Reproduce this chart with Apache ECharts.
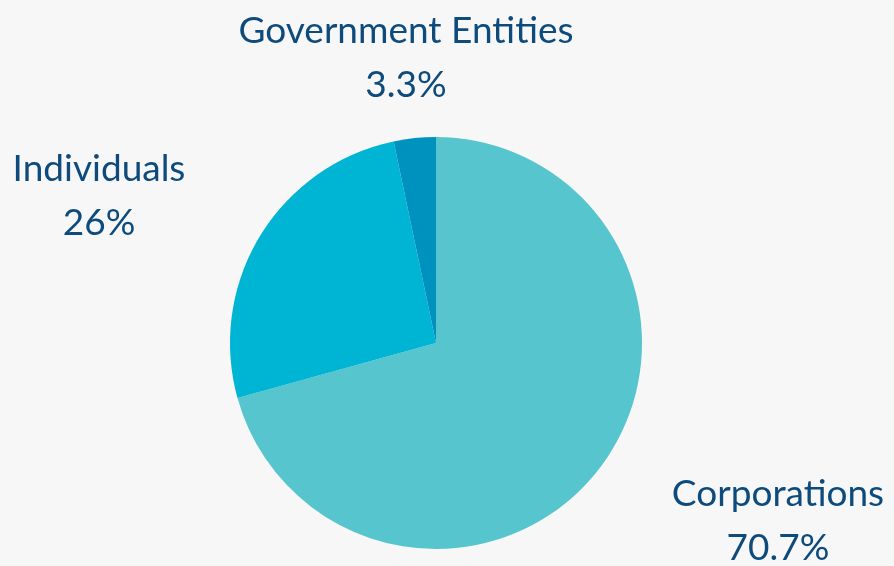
<!DOCTYPE html>
<html><head><meta charset="utf-8">
<script src="https://cdn.jsdelivr.net/npm/echarts@6/dist/echarts.min.js"></script>
<style>html,body{margin:0;padding:0;background:#F7F7F7;}#c{width:894px;height:566px;}</style>
</head><body><div id="c"></div>
<script>
const categories = ["Corporations", "Individuals", "Government Entities"];
const values = [70.7, 26, 3.3];
const valueLabels = ["70.7%", "26%", "3.3%"];
const colors = ["#56C5CD", "#00B5D3", "#0092BF"];
const labelPos = [[778, 521], [99, 196], [406, 58]];

const chart = echarts.init(document.getElementById('c'));
chart.setOption({
  backgroundColor: '#F7F7F7',
  animation: false,
  series: [{
    type: 'pie',
    center: [436, 343],
    radius: 206,
    startAngle: 90,
    clockwise: true,
    data: categories.map((c, i) => ({name: c, value: values[i], itemStyle: {color: colors[i]}})),
    label: {
      show: true,
      position: 'outside',
      formatter: p => p.name + '\n' + valueLabels[p.dataIndex],
      color: '#0E4B7D',
      fontSize: 37,
      fontWeight: 'normal',
      lineHeight: 54,
      fontFamily: 'Lato',
      align: 'center'
    },
    labelLine: {show: false},
    labelLayout: p => ({x: labelPos[p.dataIndex][0], y: labelPos[p.dataIndex][1], align: 'center', verticalAlign: 'middle'})
  }]
});
</script></body></html>
